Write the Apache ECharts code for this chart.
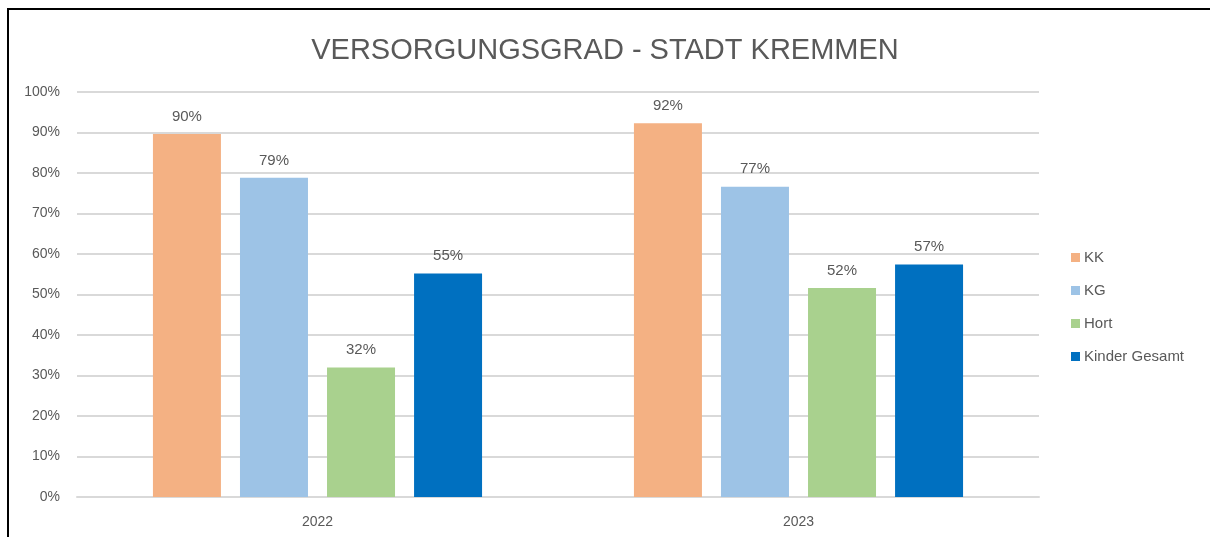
<!DOCTYPE html>
<html>
<head>
<meta charset="utf-8">
<script src="https://cdn.jsdelivr.net/npm/echarts@6/dist/echarts.min.js"></script>
<style>
  html, body { margin: 0; padding: 0; background: #fff; }
  #chart { width: 1210px; height: 537px; }
</style>
</head>
<body>
<div id="chart"></div>
<script>
// Daten
const years = ['2022', '2023']
const kk = [89.6, 92.3]
const kg = [78.8, 76.6]
const hort = [32.0, 51.6]
const kinderGesamt = [55.2, 57.4]
const yTicks = [0, 10, 20, 30, 40, 50, 60, 70, 80, 90, 100]

const textColor = '#595959'
const font = 'Liberation Sans'

const labelOpt = {
  show: true,
  position: 'top',
  distance: 10,
  color: textColor,
  fontSize: 15,
  fontFamily: font,
  formatter: p => Math.round(p.value) + '%'
}

function bar(name, data, color) {
  return {
    name: name,
    type: 'bar',
    data: data,
    barWidth: 68,
    barGap: '28%',
    itemStyle: { color: color },
    label: labelOpt
  }
}

const myChart = echarts.init(document.getElementById('chart'))
myChart.setOption({
  animation: false,
  backgroundColor: '#fff',
  title: {
    text: 'VERSORGUNGSGRAD - STADT KREMMEN',
    left: 'center',
    top: 31,
    textStyle: { color: textColor, fontSize: 29, fontWeight: 'normal', fontFamily: font }
  },
  legend: {
    orient: 'vertical',
    left: 1071,
    top: 250,
    padding: 0,
    itemWidth: 9,
    itemHeight: 9,
    itemGap: 18,
    icon: 'rect',
    textStyle: { color: textColor, fontSize: 15, fontFamily: font, padding: [0, 0, 0, -1] }
  },
  grid: { left: 77, right: 171, top: 92, bottom: 40, containLabel: false },
  xAxis: {
    type: 'category',
    data: years,
    axisLine: { lineStyle: { color: '#d9d9d9', width: 2 } },
    axisTick: { show: false },
    axisLabel: { color: textColor, fontSize: 14, fontFamily: font, margin: 18 }
  },
  yAxis: {
    type: 'value',
    min: yTicks[0],
    max: yTicks[yTicks.length - 1],
    interval: 10,
    axisLine: { show: false },
    axisTick: { show: false },
    splitLine: { lineStyle: { color: '#d9d9d9', width: 2 } },
    axisLabel: { color: textColor, fontSize: 14, fontFamily: font, margin: 17, formatter: v => v + '%' }
  },
  graphic: [
    { type: 'line', shape: { x1: 8, y1: 9, x2: 1210, y2: 9 }, style: { stroke: '#000', lineWidth: 2 } },
    { type: 'line', shape: { x1: 8, y1: 8, x2: 8, y2: 537 }, style: { stroke: '#000', lineWidth: 2 } }
  ],
  series: [
    bar('KK', kk, '#F4B183'),
    bar('KG', kg, '#9DC3E6'),
    bar('Hort', hort, '#A9D18E'),
    bar('Kinder Gesamt', kinderGesamt, '#0070C0')
  ]
})
window.addEventListener('resize', function () {
  myChart.resize()
})
</script>
</body>
</html>
